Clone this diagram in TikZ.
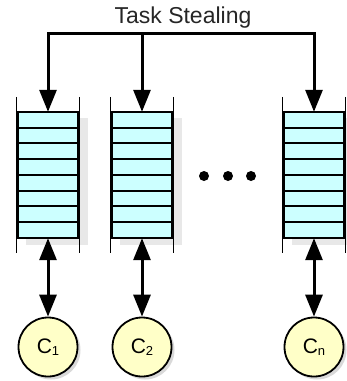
\documentclass[tikz,border=0pt]{standalone}
\usepackage{fontspec}
\setmainfont{Liberation Sans}
\usetikzlibrary{arrows.meta,calc,shadows}

\definecolor{slotcyan}{HTML}{CCFFFF}
\definecolor{coreyellow}{HTML}{FFFFC8}
\definecolor{shadowgray}{HTML}{E8E8E8}

% subscript for the core labels
\newcommand{\coresub}[1]{\raisebox{-2pt}{\fontsize{13}{13}\selectfont #1}}

\tikzset{
  >={Triangle[length=22pt,width=17pt]},
  queue/.style={rectangle, minimum width=63pt, minimum height=126pt, inner sep=0pt},
  slot/.style={draw=black, line width=2pt, fill=slotcyan},
  wall/.style={draw=black, line width=1.2pt},
  core/.style={circle, draw=black, line width=1.8pt, fill=coreyellow,
    minimum size=59pt, inner sep=0pt, font=\fontsize{21}{21}\selectfont,
    drop shadow={shadow xshift=3pt, shadow yshift=-3pt, fill=black!15, opacity=1}},
  link/.style={line width=3pt},
}

\begin{document}
\begin{tikzpicture}[x=1pt,y=-1pt]
  \useasboundingbox (0,0) rectangle (347,381);

  % title and the stealing bus
  \node[font=\fontsize{23}{23}\selectfont, text=black!85] (title) at (183,18) {Task Stealing};
  \coordinate (bus) at (0,33);

  % the task queues
  \node[queue] (q1) at (48,175) {};
  \node[queue] (q2) at (142,175) {};
  \node[queue] (qn) at (314,175) {};

  \foreach \q in {q1,q2,qn} {
    \fill[shadowgray] ($(\q.north west)+(10,6)$) rectangle ($(\q.south east)+(8,7)$);
    \foreach \i in {0,...,7}
      \draw[slot] ($(\q.north west)+(2,\i*15.75)$) rectangle ++(60,15.75);
    \draw[wall] ($(\q.north west)+(0,-15)$) -- ($(\q.south west)+(0,15)$);
    \draw[wall] ($(\q.north east)+(0,-15)$) -- ($(\q.south east)+(0,15)$);
  }

  % dots between the queues
  \foreach \x in {204,228,251}
    \fill (\x,176) circle (5);

  % cores
  \node[core] (c1) at (48,347) {C\coresub{1}};
  \node[core] (c2) at (142,347) {C\coresub{2}};
  \node[core] (cn) at (314,347) {C\coresub{n}};

  % stealing arrows into the queues
  \draw[link, line cap=rect] (q1.north |- bus) -- (qn.north |- bus);
  \foreach \q in {q1,q2,qn}
    \draw[link, ->] (\q.north |- bus) -- (\q.north);

  % queue <-> core
  \draw[link, <->] (q1.south) -- (c1.north);
  \draw[link, <->] (q2.south) -- (c2.north);
  \draw[link, <->] (qn.south) -- (cn.north);
\end{tikzpicture}
\end{document}
